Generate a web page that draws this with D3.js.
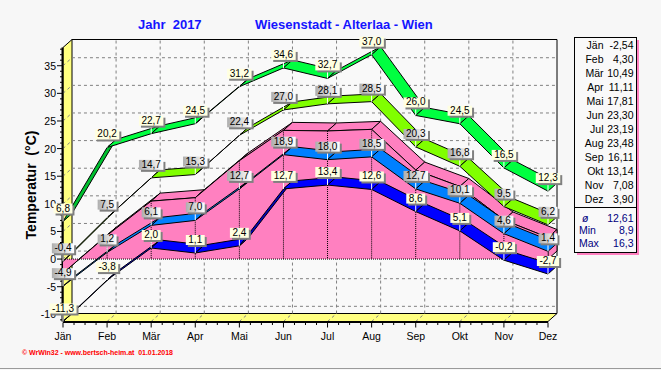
<!DOCTYPE html>
<html>
<head>
<meta charset="utf-8">
<script src="https://cdn.jsdelivr.net/npm/d3@7"></script>
<style>
  body { margin: 0; background: #f7f7f7; }
  svg { display: block; font-family: Arial, "Liberation Sans", sans-serif; }
</style>
</head>
<body>
<div id="chart"></div>
<script>
// data
const months = ["Jän", "Feb", "Mär", "Apr", "Mai", "Jun", "Jul", "Aug", "Sep", "Okt", "Nov", "Dez"]
const absMax = [6.8, 20.2, 22.7, 24.5, 31.2, 34.6, 32.7, 37.0, 26.0, 24.5, 16.5, 12.3]
const meanMax = [-0.4, 7.5, 14.7, 15.3, 22.4, 27.0, 28.1, 28.5, 20.3, 16.8, 9.5, 6.2]
const meanMin = [-4.9, 1.2, 6.1, 7.0, 12.7, 18.9, 18.0, 18.5, 12.7, 10.1, 4.6, 1.4]
const absMin = [-11.3, -3.8, 2.0, 1.1, 2.4, 12.7, 13.4, 12.6, 8.6, 5.1, -0.2, -2.7]
const monthMean = [-2.54, 4.30, 10.49, 11.11, 17.81, 23.30, 23.19, 23.48, 16.11, 13.14, 7.08, 3.90]
const yTicks = [-10, -5, 0, 5, 10, 15, 20, 25, 30, 35]

const W = 661, H = 370
const depth = { x: 9, y: -8 }

const de = d3.formatLocale({ decimal: ",", thousands: ".", grouping: [3], currency: ["", "€"], minus: "-" })
const fmt1 = de.format(".1f")
const fmt2 = de.format(".2f")

const svg = d3.select("#chart")
  .append("svg")
  .attr("width", W)
  .attr("height", H)

const x = d3.scalePoint().domain(months).range([63, 548])
const y = d3.scaleLinear().domain([-11.3, 38.3]).range([321.5, 47.5])

const xL = x.range()[0], xR = x.range()[1]
const yTop = y.range()[1], yBot = y.range()[0]

const grad = svg.append("defs").append("linearGradient").attr("id", "grayLbl")
grad.append("stop").attr("offset", "0%").attr("stop-color", "#aeaeae")
grad.append("stop").attr("offset", "100%").attr("stop-color", "#ffffff")

// back wall
svg.append("rect")
  .attr("x", xL + depth.x).attr("y", yTop + depth.y)
  .attr("width", xR - xL).attr("height", yBot - yTop)
  .attr("fill", "#f9f9f9")
svg.append("path")
  .attr("d", `M${xL + depth.x},${yTop + depth.y}H${xR + depth.x}V${yBot + depth.y}`)
  .attr("fill", "none").attr("stroke", "#000")

// left wall
svg.append("polygon")
  .attr("points", [[xL, yTop], [xL + depth.x, yTop + depth.y], [xL + depth.x, yBot + depth.y], [xL, yBot]].join(" "))
  .attr("fill", "#ffff80").attr("stroke", "#000")

// floor
svg.append("polygon")
  .attr("points", [[xL, yBot], [xR, yBot], [xR + depth.x, yBot + depth.y], [xL + depth.x, yBot + depth.y]].join(" "))
  .attr("fill", "#ffff80").attr("stroke", "#000")

// grid
const grid = svg.append("g")
  .attr("stroke", "#808080")
  .attr("stroke-dasharray", "3,3")
  .attr("fill", "none")

grid.selectAll(".h")
  .data(yTicks)
  .join("path")
  .attr("d", d => `M${xL},${y(d)}L${xL + depth.x},${y(d) + depth.y}H${xR + depth.x}`)

grid.selectAll(".v")
  .data(months.slice(1, -1))
  .join("path")
  .attr("d", d => `M${x(d)},${yBot}L${x(d) + depth.x},${yBot + depth.y}V${yTop + depth.y}`)

svg.append("line")
  .attr("x1", xL - 0.5).attr("x2", xL - 0.5)
  .attr("y1", yTop).attr("y2", yBot)
  .attr("stroke", "#000").attr("stroke-width", 2)
svg.append("line")
  .attr("x1", xL).attr("x2", xR)
  .attr("y1", yBot + 0.5).attr("y2", yBot + 0.5)
  .attr("stroke", "#000").attr("stroke-width", 2)

// y axis ticks
svg.append("g")
  .selectAll("line")
  .data(d3.range(-11, 39))
  .join("line")
  .attr("x1", d => d % 5 == 0 ? xL - 6 : xL - 3)
  .attr("x2", xL - 1)
  .attr("y1", d => y(d)).attr("y2", d => y(d))
  .attr("stroke", "#000")

svg.append("g")
  .selectAll("text")
  .data(yTicks)
  .join("text")
  .attr("x", 56)
  .attr("y", d => y(d) + 4)
  .attr("text-anchor", "end")
  .attr("font-size", "10.5px")
  .text(d => d)

// x axis ticks
const step = x.step()
svg.append("g")
  .selectAll("line")
  .data(d3.range(0, 11 * 4 + 1))
  .join("line")
  .attr("x1", d => xL + d * step / 4).attr("x2", d => xL + d * step / 4)
  .attr("y1", yBot + 1)
  .attr("y2", d => d % 4 == 0 ? yBot + 6 : yBot + 3.5)
  .attr("stroke", "#000")

svg.append("g")
  .selectAll("text")
  .data(months)
  .join("text")
  .attr("x", d => x(d))
  .attr("y", 339.5)
  .attr("text-anchor", "middle")
  .attr("font-size", "10.5px")
  .text(d => d)

// strip between two neighbouring points, front to back
function strip(g, a, b, color) {
  const dx = b[0] - a[0], dy = b[1] - a[1]
  const under = dx * depth.y - dy * depth.x > 0
  g.append("polygon")
    .attr("points", [a, b, [b[0] + depth.x, b[1] + depth.y], [a[0] + depth.x, a[1] + depth.y]].join(" "))
    .attr("fill", under ? d3.color(color).darker(0.8) : color)
    .attr("stroke", "#000")
    .attr("stroke-width", 1)
    .attr("stroke-linejoin", "round")
}

// monthly mean as 3d area
const meanPts = monthMean.map((v, i) => [x(months[i]), y(v)])
const y0 = y(0)
const areaG = svg.append("g")
for (let i = 0; i < meanPts.length - 1; i++) strip(areaG, meanPts[i], meanPts[i + 1], "#ff80c0")

const last = meanPts[meanPts.length - 1]
areaG.append("polygon")
  .attr("points", [[last[0], y0], last, [last[0] + depth.x, last[1] + depth.y], [last[0] + depth.x, y0 + depth.y]].join(" "))
  .attr("fill", "#ff80c0").attr("stroke", "#000")

areaG.append("path")
  .attr("d", d3.area().x(d => d[0]).y0(y0).y1(d => d[1])(meanPts))
  .attr("fill", "#ff80c0")
areaG.append("path")
  .attr("d", d3.line()(meanPts))
  .attr("fill", "none").attr("stroke", "#000")
areaG.append("line")
  .attr("x1", xL).attr("x2", xR)
  .attr("y1", y0).attr("y2", y0)
  .attr("stroke", "#000").attr("stroke-dasharray", "1,1")
areaG.selectAll(".drop")
  .data(meanPts.slice(1))
  .join("line")
  .attr("x1", d => d[0]).attr("x2", d => d[0])
  .attr("y1", d => d[1]).attr("y2", y0)
  .attr("stroke", "#000").attr("stroke-dasharray", "1,1")

// ribbons
const series = [
  { values: absMax, color: "#00ff40", label: "yellow" },
  { values: meanMax, color: "#80ff00", label: "gray" },
  { values: meanMin, color: "#0080ff", label: "gray" },
  { values: absMin, color: "#0000ff", label: "yellow" },
]

series.forEach(s => {
  const g = svg.append("g")
  const pts = s.values.map((v, i) => [x(months[i]), y(v)])
  for (let i = 0; i < pts.length - 1; i++) strip(g, pts[i], pts[i + 1], s.color)
})

// value labels
series.forEach(s => {
  const g = svg.append("g")
  s.values.forEach((v, i) => {
    const px = x(months[i]), py = y(v)
    const lg = g.append("g")
    lg.append("line")
      .attr("x1", px).attr("x2", px)
      .attr("y1", py).attr("y2", py - 8)
      .attr("stroke", "#fff")
    const shadow = lg.append("rect").attr("fill", "#808080")
    const box = lg.append("rect")
      .attr("fill", s.label == "yellow" ? "#ffffe1" : "url(#grayLbl)")
    const t = lg.append("text")
      .attr("x", px)
      .attr("y", py - 10)
      .attr("text-anchor", "middle")
      .attr("font-size", "10px")
      .text(fmt1(v))
    const w = t.node().getComputedTextLength() + 5
    box.attr("x", px - w / 2).attr("y", py - 18).attr("width", w).attr("height", 10)
    shadow.attr("x", px - w / 2 + 2).attr("y", py - 16).attr("width", w).attr("height", 10)
  })
})

// titles
svg.append("text")
  .attr("x", 138).attr("y", 29)
  .attr("font-size", "13px").attr("font-weight", "bold")
  .attr("fill", "#1414ff")
  .style("white-space", "pre")
  .text("Jahr  2017")
svg.append("text")
  .attr("x", 255).attr("y", 29)
  .attr("font-size", "13px").attr("font-weight", "bold")
  .attr("fill", "#1414ff")
  .text("Wiesenstadt - Alterlaa - Wien")

svg.append("text")
  .attr("transform", "translate(35.5,185) rotate(-90)")
  .attr("text-anchor", "middle")
  .attr("font-size", "14px").attr("font-weight", "bold")
  .style("white-space", "pre")
  .text("Temperatur  (°C)")

svg.append("text")
  .attr("x", 22).attr("y", 354.5)
  .attr("font-size", "7px").attr("font-weight", "bold")
  .attr("fill", "#ff0000")
  .attr("textLength", 151)
  .attr("lengthAdjust", "spacing")
  .style("white-space", "pre")
  .text("© WrWin32 - www.bertsch-heim.at  01.01.2018")

// legend
const leg = svg.append("g").attr("font-size", "10.5px")
leg.append("rect")
  .attr("x", 577).attr("y", 40).attr("width", 62).attr("height", 215)
  .attr("fill", "#ff80c0")
leg.append("rect")
  .attr("x", 574.5).attr("y", 37.5).attr("width", 62).attr("height", 215)
  .attr("fill", "#f9f9f9").attr("stroke", "#000")
leg.append("line")
  .attr("x1", 574.5).attr("x2", 636.5)
  .attr("y1", 207.5).attr("y2", 207.5)
  .attr("stroke", "#000")

leg.selectAll(".m")
  .data(months)
  .join("text")
  .attr("x", 603.5)
  .attr("y", (d, i) => 49 + i * 14)
  .attr("text-anchor", "end")
  .text(d => d)
leg.selectAll(".v")
  .data(monthMean)
  .join("text")
  .attr("x", 633.5)
  .attr("y", (d, i) => 49 + i * 14)
  .attr("text-anchor", "end")
  .text(d => fmt2(d))

const stats = [
  ["ø", fmt2(d3.mean(monthMean))],
  ["Min", fmt1(d3.mean(meanMin))],
  ["Max", fmt1(d3.mean(meanMax))],
]
leg.selectAll(".sl")
  .data(stats)
  .join("text")
  .attr("x", (d, i) => i == 0 ? 582 : 579)
  .attr("y", (d, i) => 221.5 + i * 12.5)
  .attr("fill", "#000080")
  .attr("font-style", (d, i) => i == 0 ? "italic" : "normal")
  .text(d => d[0])
leg.selectAll(".sv")
  .data(stats)
  .join("text")
  .attr("x", 633.5)
  .attr("y", (d, i) => 221.5 + i * 12.5)
  .attr("text-anchor", "end")
  .attr("fill", "#000080")
  .text(d => d[1])

// panel border
svg.append("line")
  .attr("x1", 0).attr("x2", W)
  .attr("y1", H - 1.5).attr("y2", H - 1.5)
  .attr("stroke", "#9a9a9a")
</script>
</body>
</html>
